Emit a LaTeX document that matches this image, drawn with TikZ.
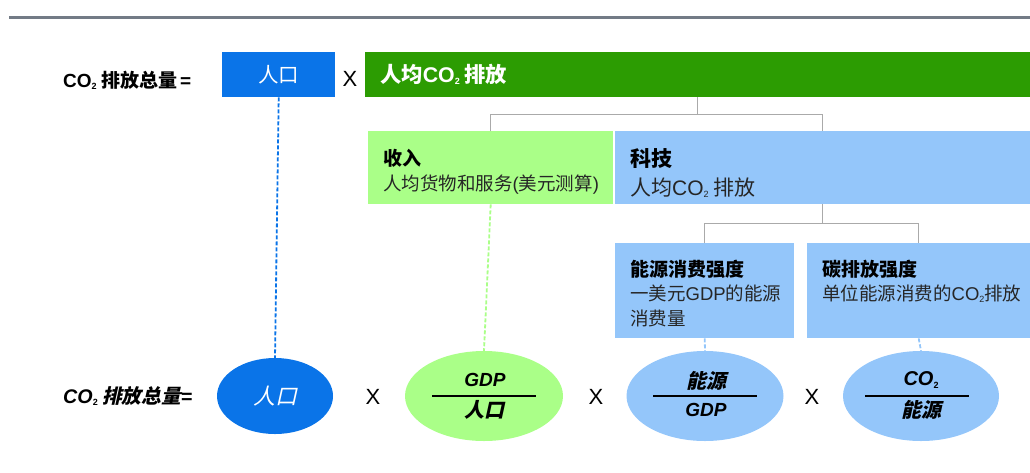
\documentclass[tikz,border=0pt]{standalone}
\usepackage{fontspec}
\setmainfont{Noto Sans CJK SC}
\newfontfamily\lat{Liberation Sans}
\newfontfamily\cjksl{Noto Sans CJK SC}[FakeSlant=0.22]
\usetikzlibrary{shapes.geometric}
\definecolor{popblue}{HTML}{0A74E8}
\definecolor{dkgreen}{HTML}{2C9C02}
\definecolor{ltgreen}{HTML}{AAFF88}
\definecolor{ltblue}{HTML}{94C6FA}
\definecolor{rulegray}{HTML}{737B86}
\definecolor{conngray}{HTML}{AAAAAA}
\definecolor{bodytxt}{HTML}{262626}
\newcommand\subtwo{\raisebox{-2.5pt}{\lat\fontsize{9}{9}\selectfont 2}}
\newcommand\fsz[1]{\fontsize{#1}{#1}\selectfont}
\begin{document}
\begin{tikzpicture}[x=1pt,y=-1pt,
  box/.style={rectangle, draw=none, inner sep=0, anchor=north west},
  ell/.style={ellipse, draw=none, inner sep=0},
  tree/.style={draw=conngray, line width=1.2pt},
  dashln/.style={line width=1.8pt, dash pattern=on 4pt off 2pt},
  txt/.style={inner sep=0, anchor=base west},
  head/.style={txt, font=\bfseries\fsz{19}, text=black},
  bodyl/.style={txt, font=\fsz{18.5}, text=bodytxt},
  times/.style={inner sep=0, font=\lat\fsz{22}},
  frac/.style={inner sep=0, font=\cjksl\bfseries\fsz{20}},
  fracl/.style={inner sep=0, font=\lat\bfseries\itshape\fsz{19}},
  fracline/.style={draw=black, line width=1.2pt}]
\useasboundingbox (0,0) rectangle (1030,472);
% top rule
\coordinate (r1) at (9,17);
\coordinate (r2) at (1030,17);
\draw[rulegray, line width=3pt] (r1) -- (r2);

% top row
\node[txt, font=\bfseries\fsz{19}] (lbl1) at (63,87) {{\lat CO}\subtwo\ 排放总量\,{\lat =}};
\node[box, fill=popblue, minimum width=113, minimum height=45] (pop) at (222,52) {};
\node[text=white, font=\fsz{20.5}] at (pop.center) {人口};
\node[times] (x0) at (350,79) {X};
\node[box, fill=dkgreen, minimum width=665, minimum height=45] (pc) at (365,52) {};
\node[txt, text=white, font=\bfseries\fsz{21.3}] at (380,82) {人均{\lat CO}\subtwo\ 排放};

% second row
\node[box, fill=ltgreen, minimum width=245, minimum height=73] (inc) at (368,131) {};
\node[box, fill=ltblue, minimum width=415, minimum height=73] (tech) at (615,131) {};
\node[head] at (383,165) {收入};
\node[bodyl] at (383,190) {人均货物和服务{\lat (}美元测算{\lat )}};
\node[head, font=\bfseries\fsz{21}] at (630,166) {科技};
\node[bodyl, font=\fsz{21}] at (630,195) {人均{\lat CO}\subtwo\ 排放};

% third row
\node[box, fill=ltblue, minimum width=179, minimum height=95] (ene) at (615,243) {};
\node[box, fill=ltblue, minimum width=223, minimum height=95] (carb) at (807,243) {};
\node[head] at (630,276) {能源消费强度};
\node[bodyl] at (630,300) {一美元{\lat GDP}的能源};
\node[bodyl] at (630,325) {消费量};
\node[head] at (822,276) {碳排放强度};
\node[bodyl] at (822,300) {单位能源消费的{\lat CO}\subtwo 排放};

% tree connectors
\draw[tree] (pc.south) -- ++(0,17) coordinate (j1);
\draw[tree] (inc.north) |- (j1) -| (tech.north);
\draw[tree] (tech.south) -- ++(0,19) coordinate (j2);
\draw[tree] (ene.north) |- (j2) -| (carb.north);

% bottom row
\node[txt, font=\cjksl\bfseries\fsz{19.7}] (lbl2) at (63,403) {{\lat\itshape CO}\subtwo\ 排放总量{\lat =}};
\node[ell, fill=popblue, minimum width=116, minimum height=76] (e1) at (275,396) {};
\node[text=white, font=\cjksl\fsz{22}] at (e1.center) {人口};
\node[times] (x1) at (373,397) {X};
\node[ell, fill=ltgreen, minimum width=158, minimum height=90] (e2) at (484,396) {};
\node[times] (x2) at (596,397) {X};
\node[ell, fill=ltblue, minimum width=157, minimum height=90] (e3) at (705,396) {};
\node[times] (x3) at (812,397) {X};
\node[ell, fill=ltblue, minimum width=156, minimum height=90] (e4) at (921,396) {};

\draw[fracline] ([xshift=-52]e2.center) -- ([xshift=52]e2.center);
\draw[fracline] ([xshift=-52]e3.center) -- ([xshift=52]e3.center);
\draw[fracline] ([xshift=-56]e4.center) -- ([xshift=48]e4.center);
\node[fracl] at (485,380) {GDP};
\node[frac] at (484,410) {人口};
\node[frac] at (706,381) {能源};
\node[fracl] at (706,410) {GDP};
\node[frac] at (921,380) {{\lat\itshape CO}\subtwo};
\node[frac] at (921,410) {能源};

% dashed links
\draw[dashln, draw=popblue] (pop.south) -- (e1.north);
\draw[dashln, draw=ltgreen] (inc.south) -- (e2.north);
\draw[dashln, draw=ltblue] (ene.south) -- (e3.north);
\draw[dashln, draw=ltblue] (carb.south) -- (e4.north);
\end{tikzpicture}
\end{document}
